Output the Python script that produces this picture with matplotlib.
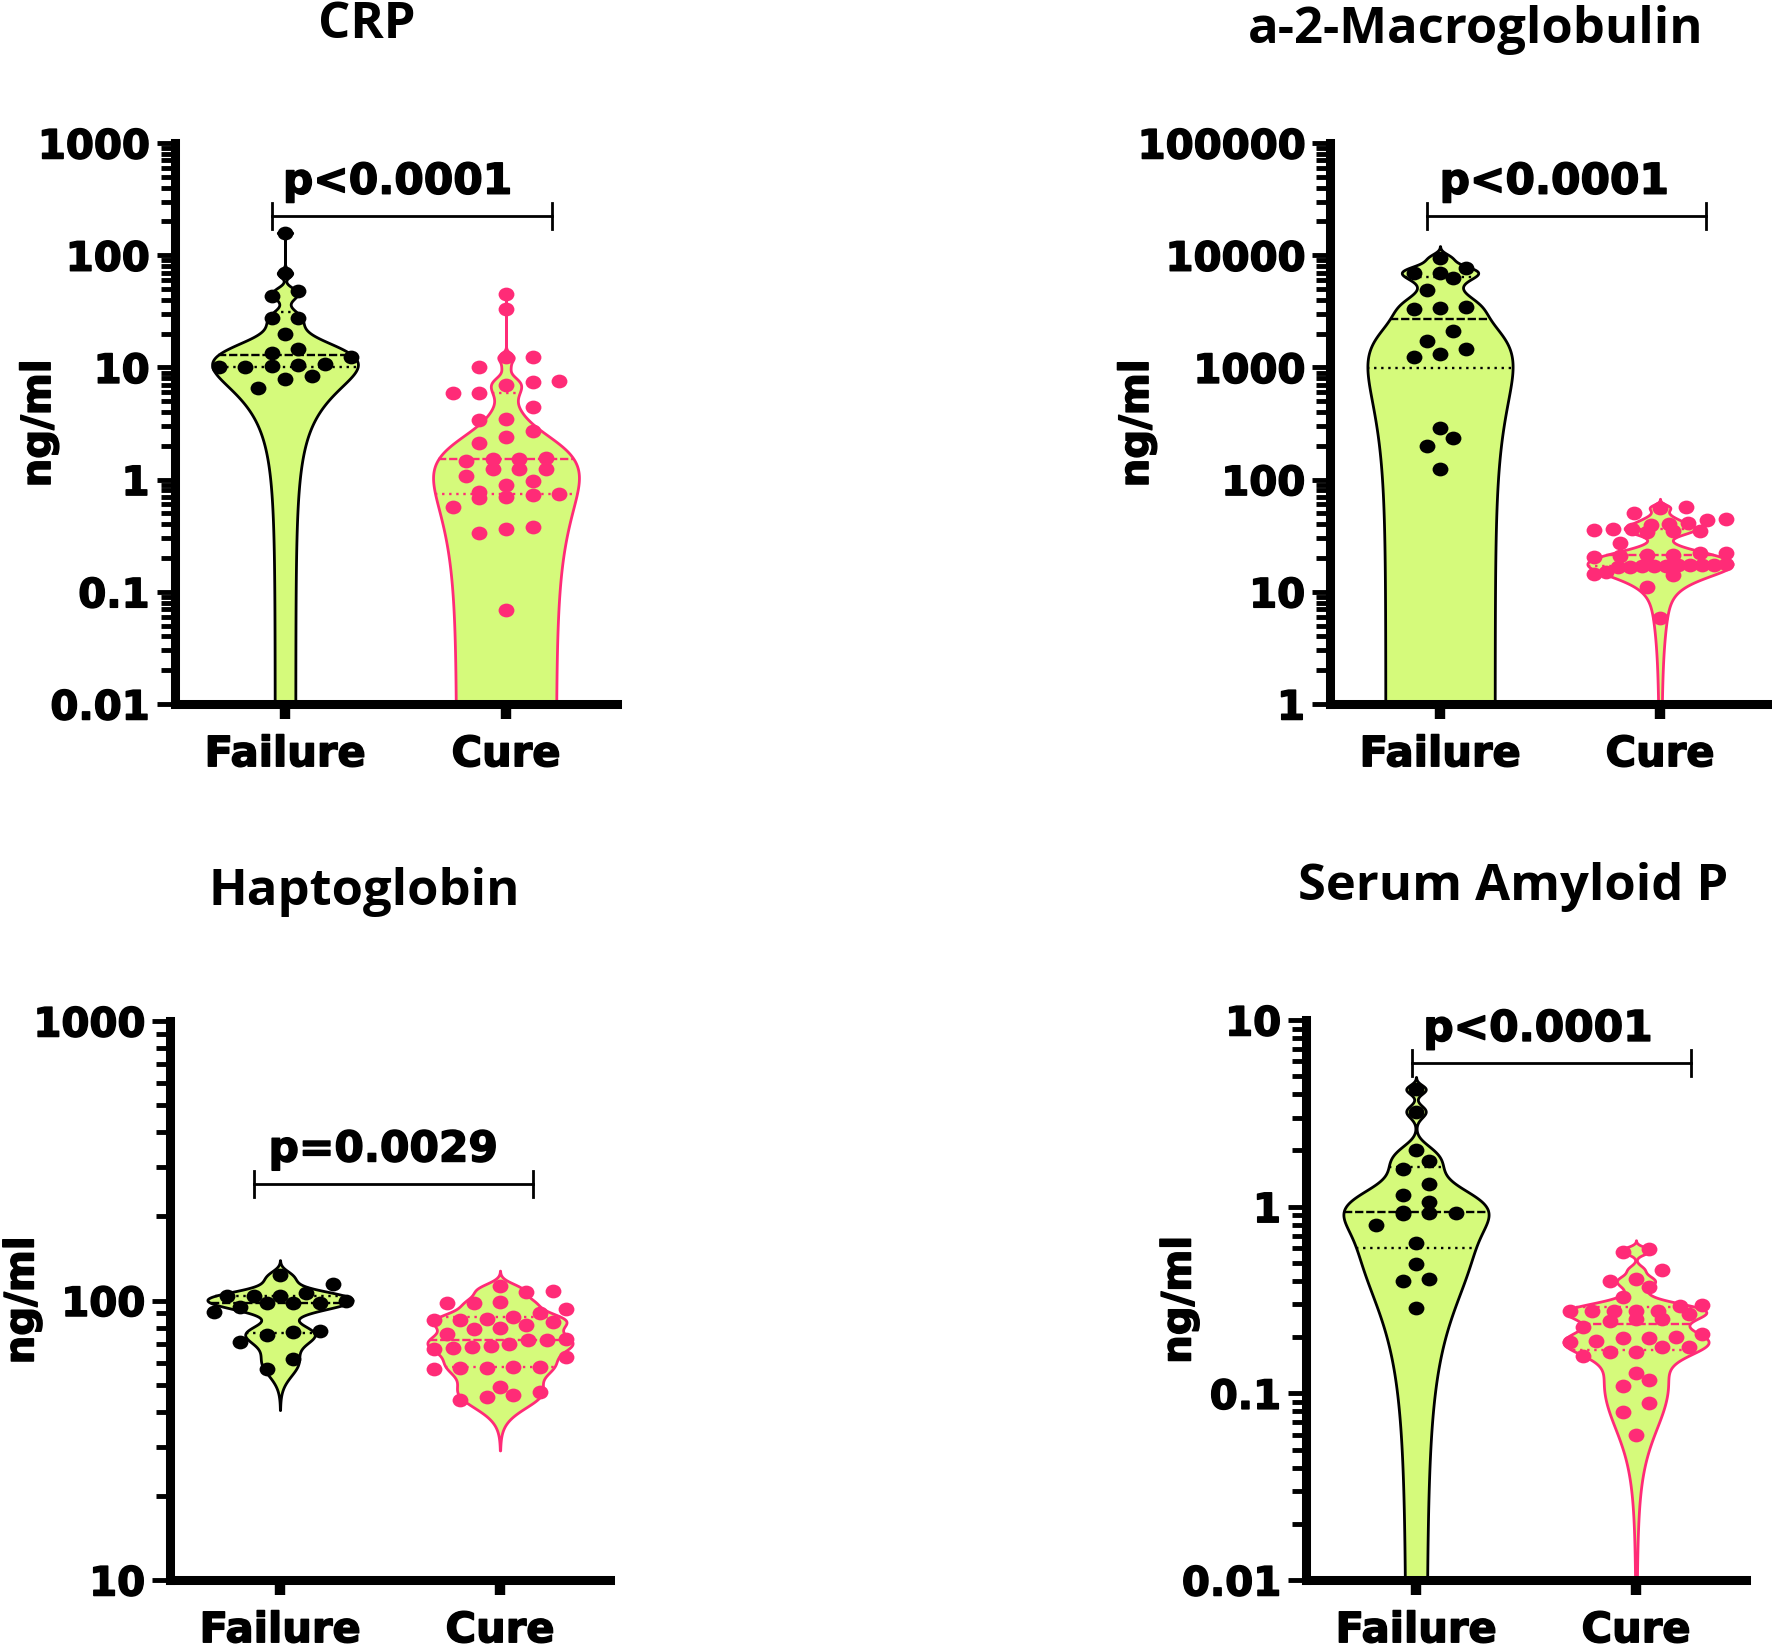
import numpy as np
import matplotlib
matplotlib.use("Agg")
import matplotlib.pyplot as plt
import matplotlib.patheffects as pe
from matplotlib.path import Path
from matplotlib.markers import MarkerStyle
from matplotlib.transforms import Affine2D, blended_transform_factory
from matplotlib.ticker import LogLocator, FuncFormatter, NullFormatter

# ---- data (ng/ml) ----
groups = ["Failure", "Cure"]

crp_failure = [158, 69, 43, 48, 27.4, 27.4, 19.9, 13.5, 14.5, 12.4, 10.5, 10.1,
               10.3, 10.1, 10.7, 7.9, 8.3, 6.6]
crp_cure = [45, 33, 12.3, 12.3, 10.0, 7.0, 7.4, 7.5, 5.96, 5.9, 4.4, 3.45, 3.4,
            2.7, 2.4, 2.1, 1.52, 1.52, 1.57, 1.47, 1.24, 1.24, 1.24, 1.08, 0.90,
            0.98, 0.70, 0.73, 0.74, 0.78, 0.69, 0.57, 0.363, 0.337, 0.376, 0.069]

a2m_failure = [9380, 6980, 7640, 6980, 6220, 4900, 3480, 3290, 3370, 2120, 1730,
               1320, 1450, 1230, 290, 233, 199, 124]
a2m_cure = [57, 56, 50, 39, 44, 45, 40, 41, 35.5, 36, 35, 36, 34, 35, 27, 21.3,
            22, 21, 21.5, 20.5, 22, 17.2, 17.5, 17, 17.3, 17.6, 16.6, 16.5, 17,
            17.1, 17.4, 15.1, 14.1, 14.5, 11.1, 5.8]

hapto_failure = [123, 115, 106, 104, 104, 104, 99.8, 98, 98, 98, 91, 95, 75, 77,
                 78, 71, 62, 57]
hapto_cure = [113, 108, 107, 99, 98, 98, 93, 90, 86, 87.5, 85, 84, 85, 82, 79.5,
              79, 76, 70, 73, 72, 69, 72, 67, 68, 67.5, 63, 58, 58, 57, 57.5,
              57.5, 49, 46, 47, 45, 44]

sap_failure = [4.25, 3.23, 2.0, 1.76, 1.6, 1.33, 1.156, 1.06, 0.93, 0.93, 0.91,
               0.94, 0.80, 0.64, 0.49, 0.41, 0.40, 0.285]
sap_cure = [0.574, 0.59, 0.46, 0.40, 0.41, 0.373, 0.327, 0.277, 0.277, 0.297,
            0.277, 0.266, 0.294, 0.277, 0.277, 0.227, 0.249, 0.245, 0.249, 0.19,
            0.201, 0.188, 0.209, 0.198, 0.198, 0.167, 0.158, 0.178, 0.178, 0.167,
            0.118, 0.128, 0.109, 0.089, 0.079, 0.06]

titles = ["CRP", "a-2-Macroglobulin", "Haptoglobin", "Serum Amyloid P"]
p_labels = ["p<0.0001", "p<0.0001", "p=0.0029", "p<0.0001"]
y_limits = [(0.01, 1000), (1, 100000), (10, 1000), (0.01, 10)]

# ---- style ----
FILL = "#D5FA7B"
PINK = "#FF2B77"
BLACK = "#000000"
BW = 0.6          # bandwidth factor for the violins
HALF_W = 0.33     # max half width of a violin (category units)
W, H = 1772, 1644

# axes boxes in pixels: left, top, width, height
boxes = [(174.5, 143, 442, 561), (1330, 143, 440, 561),
         (170, 1021, 440, 559), (1306, 1020, 440, 560)]
title_pos = [(367, 38), (1476, 43), (364, 905), (1513, 900)]
ylab_x = [-0.261, -0.393, -0.29, -0.242]
brackets = [(-0.06, 1.21, 0.870), (-0.06, 1.21, 0.870),
            (-0.12, 1.15, 0.709), (-0.02, 1.25, 0.923)]
ptext_x = [0.51, 0.52, 0.47, 0.555]

ell = Path.unit_circle().transformed(Affine2D().scale(1.15, 1.0))
dot = MarkerStyle(ell)
heavy = [pe.withStroke(linewidth=1.1, foreground="black")]

plt.rcParams["font.family"] = ["DejaVu Sans"]
plt.rcParams["font.weight"] = "bold"

fig = plt.figure(figsize=(W / 100, H / 100), dpi=100)


def violin(ax, x, vals, ylo, color):
    v = np.asarray(vals, float)
    n = len(v)
    q1, med, q3 = np.quantile(v, [0.25, 0.5, 0.75], method="weibull")
    sd = v.std(ddof=1)
    h = BW * 0.9 * min(sd, (q3 - q1) / 1.34) * n ** -0.2
    lo = max(v.min() - 3 * h, ylo)
    hi = v.max() + 3 * h
    grid = np.logspace(np.log10(lo), np.log10(hi), 1500)
    dens = np.exp(-0.5 * ((grid[:, None] - v[None, :]) / h) ** 2).sum(1)
    half = dens / dens.max() * HALF_W
    ax.fill_betweenx(grid, x - half, x + half, facecolor=FILL, edgecolor=color,
                     lw=2.0, zorder=2)
    for q, ls in ((med, (0, (3.5, 1.2))), (q1, (0, (1, 2))), (q3, (0, (1, 2)))):
        hw = np.interp(q, grid, half)
        ax.plot([x - hw, x + hw], [q, q], color=color, lw=1.7, ls=ls, zorder=3)


def swarm(ax, x, vals, color):
    v = np.sort(np.asarray(vals, float))
    ypix = ax.transData.transform(np.column_stack([np.zeros_like(v), v]))[:, 1]
    rows, cur = [], [0]
    for i in range(1, len(v)):
        if ypix[i] - ypix[cur[0]] < 13:
            cur.append(i)
        else:
            rows.append(cur)
            cur = [i]
    rows.append(cur)
    xs = np.zeros_like(v)
    for r in rows:
        k = len(r)
        step = 0.12 if k < 2 else min(0.12, 0.60 / (k - 1))
        xs[r] = x + (np.arange(k) - (k - 1) / 2) * step
    ax.scatter(xs, v, s=130, marker=dot, color=color, linewidths=0, zorder=4)


panels = [(crp_failure, crp_cure), (a2m_failure, a2m_cure),
          (hapto_failure, hapto_cure), (sap_failure, sap_cure)]

for i, (fail, cure) in enumerate(panels):
    l, t, w, hgt = boxes[i]
    ax = fig.add_axes([l / W, 1 - (t + hgt) / H, w / W, hgt / H])
    ylo, yhi = y_limits[i]
    ax.set_yscale("log")
    ax.set_ylim(ylo, yhi)
    ax.set_xlim(-0.5, 1.5)

    violin(ax, 0, fail, ylo, BLACK)
    violin(ax, 1, cure, ylo, PINK)
    swarm(ax, 0, fail, BLACK)
    swarm(ax, 1, cure, PINK)

    for s in ("top", "right"):
        ax.spines[s].set_visible(False)
    for s in ("left", "bottom"):
        ax.spines[s].set_linewidth(6.5)
        ax.spines[s].set_zorder(5)
    ax.set_xticks([0, 1])
    ax.set_xticklabels(groups, fontsize=30, fontweight="bold")
    ax.tick_params(axis="x", length=11, width=7.5, pad=10)
    ax.yaxis.set_major_locator(LogLocator(base=10, numticks=10))
    ax.yaxis.set_minor_locator(LogLocator(base=10, subs=np.arange(2, 10), numticks=20))
    ax.yaxis.set_major_formatter(FuncFormatter(lambda val, pos: "%g" % val))
    ax.yaxis.set_minor_formatter(NullFormatter())
    ax.tick_params(axis="y", which="major", length=13, width=3.5, pad=5,
                   labelsize=29)
    ax.tick_params(axis="y", which="minor", length=10, width=3.5)
    for lab in ax.get_yticklabels() + ax.get_xticklabels():
        lab.set_fontweight("bold")
        lab.set_path_effects(heavy)
    ax.set_ylabel("ng/ml", fontsize=29, fontweight="bold", path_effects=heavy)
    ax.yaxis.set_label_coords(ylab_x[i], 0.5)

    # significance bracket
    tr = blended_transform_factory(ax.transData, ax.transAxes)
    x0, x1, yb = brackets[i]
    cap = 13 / hgt
    ax.plot([x0, x1], [yb, yb], color="black", lw=2, transform=tr, clip_on=False)
    for xe in (x0, x1):
        ax.plot([xe, xe], [yb - cap, yb + cap], color="black", lw=2,
                transform=tr, clip_on=False)
    ax.annotate(p_labels[i], xy=(ptext_x[i], yb), xycoords=tr,
                xytext=(0, 16), textcoords="offset points", ha="center",
                va="baseline", fontsize=30.5, fontweight="bold",
                path_effects=heavy)

    tx, ty = title_pos[i]
    fig.text(tx / W, 1 - ty / H, titles[i], ha="center", va="baseline",
             fontsize=36.5, fontweight="bold", family=["Open Sans", "DejaVu Sans"])

fig.savefig("out.png", dpi=100)
